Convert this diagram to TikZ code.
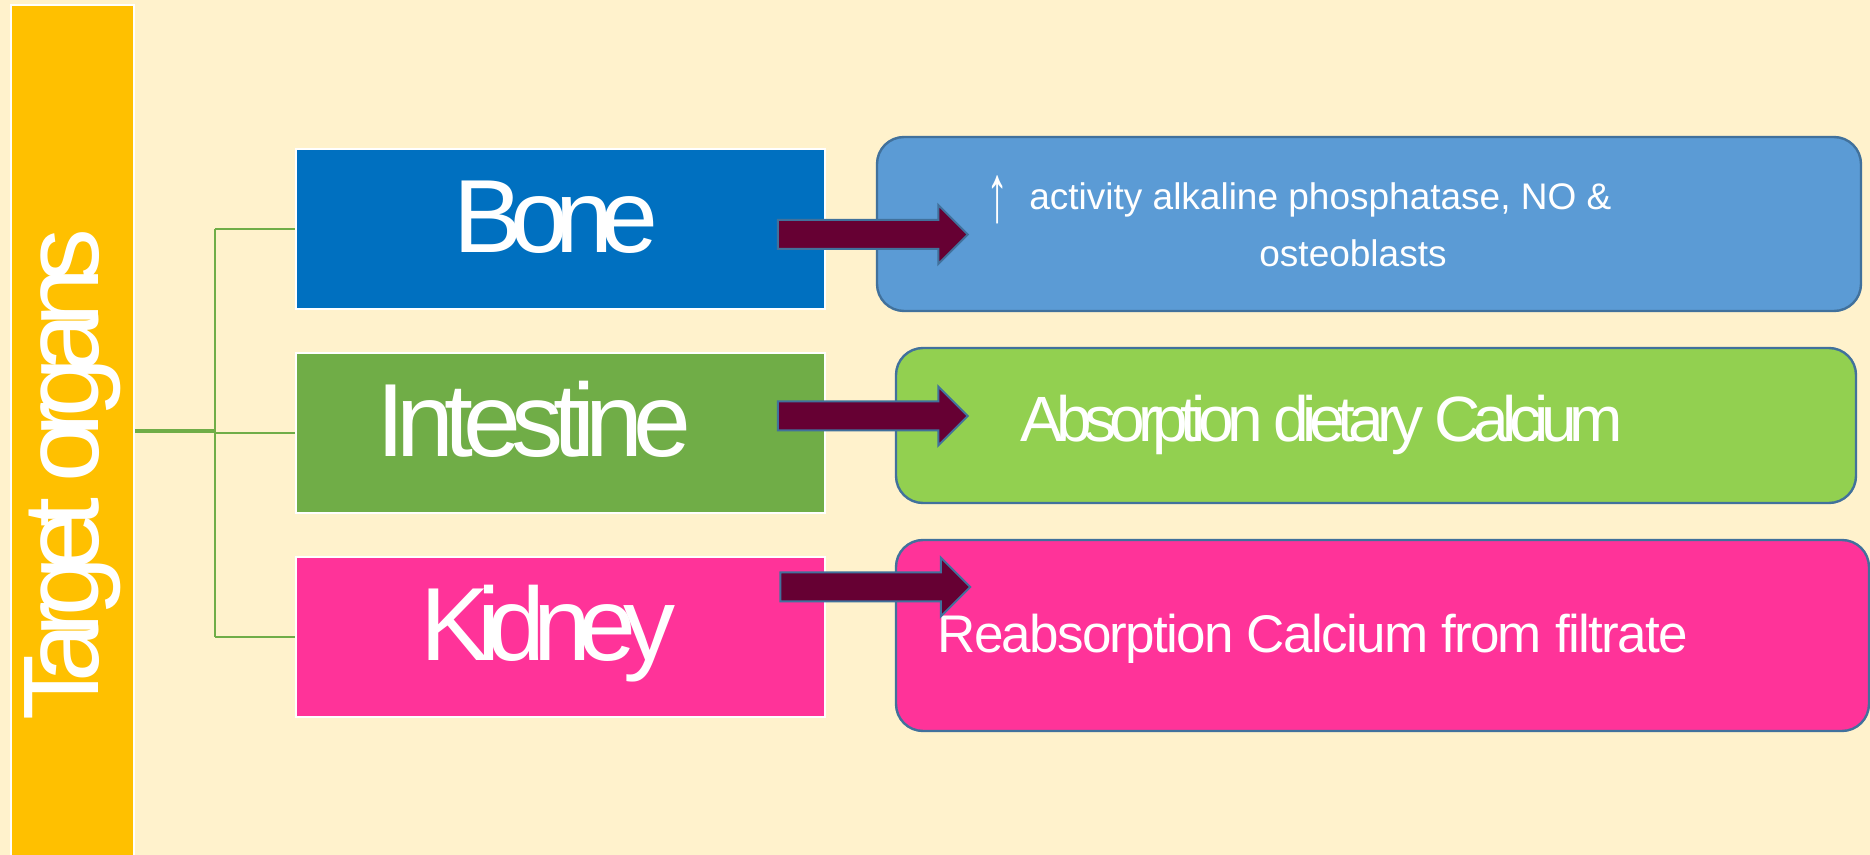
\documentclass[tikz,border=0pt]{standalone}
\usepackage{fontspec}
\setmainfont{Liberation Sans}
\usetikzlibrary{positioning,shapes.arrows}
\definecolor{cream}{HTML}{FFF2CC}
\definecolor{gold}{HTML}{FFC000}
\definecolor{boneblue}{HTML}{0070C0}
\definecolor{gutgreen}{HTML}{70AD47}
\definecolor{kidpink}{HTML}{FF3399}
\definecolor{paleblue}{HTML}{5B9BD5}
\definecolor{limegreen}{HTML}{92D050}
\definecolor{edgeblue}{HTML}{41719C}
\definecolor{wine}{HTML}{660033}
\newcommand{\tight}[2]{{\addfontfeature{LetterSpace=#1}#2}}
\tikzset{
  organ/.style={draw=white, line width=1pt, minimum width=264.5pt, minimum height=80pt, text=white, font=\fontsize{52}{52}\selectfont, text height=37.5pt, text depth=13.5pt},
  effect/.style={draw=edgeblue, line width=1.2pt, rounded corners=13.5pt},
  efftext/.style={text=white, inner sep=0pt, anchor=base west},
  fat/.style={single arrow, draw=edgeblue, fill=wine, line width=1pt, minimum height=95pt, inner sep=6.75pt, single arrow head extend=7.5pt},
  stem/.style={gutgreen, line width=1.25pt}
}

\begin{document}
\begin{tikzpicture}[x=0.5pt, y=-0.5pt]
\useasboundingbox (0,0) rectangle (1870,855);
\fill[cream] (0,0) rectangle (1870,855);
\node[fill=gold, draw=white, line width=1pt, rotate=90, minimum width=470pt, minimum height=61.5pt, text=white, font=\fontsize{53.75}{53.75}\selectfont] (bar) at (72.5,475) {\tight{-14}{Target organs}};

\node[organ, fill=boneblue] (bone) at (560,229) {\tight{-12}{Bone}\hspace*{4pt}};
\node[organ, fill=gutgreen, below=21pt of bone] (gut) {\tight{-9.5}{Intestine}\hspace*{26pt}};
\node[organ, fill=kidpink, below=21pt of gut] (kidney) {\tight{-12}{Kidney}\hspace*{12pt}};

\coordinate (hub) at (215,431);
\draw[stem, line width=2pt] (bar.south |- hub) -- (hub);
\draw[stem] (hub |- bone) -- (hub |- kidney);
\foreach \o in {bone,gut,kidney}
  \draw[stem] (hub |- \o) -- (\o.west);

\node[effect, fill=paleblue, minimum width=492pt, minimum height=87pt] (boneeff) at (1369,224) {};
\node[effect, fill=limegreen, minimum width=480pt, minimum height=77.5pt] (guteff) at (1376,425.5) {};
\node[effect, fill=kidpink, minimum width=486.5pt, minimum height=95.5pt] (kideff) at (1382.5,635.5) {};

\node[efftext, anchor=base, align=center, font=\fontsize{18.5}{28.5}\selectfont] (bonetxt) at (1353,267) {\raisebox{-6pt}{\scalebox{1.2}[2.2]{↑}}\ \ activity alkaline phosphatase, NO \&\hspace*{54pt}\\osteoblasts};
\node[efftext, font=\fontsize{32}{32}\selectfont] (guttxt) at (1020,442) {\tight{-11}{Absorption dietary Calcium}};
\node[efftext, font=\fontsize{26.5}{26.5}\selectfont] (kidtxt) at (937,653) {\tight{-3.2}{Reabsorption Calcium from filtrate}};

\node[fat] (boneto) at (865.5,234.5) {};
\node[fat] (gutto) at (865.5,416) {};
\node[fat] (kidto) at (868,587) {};
\end{tikzpicture}
\end{document}
